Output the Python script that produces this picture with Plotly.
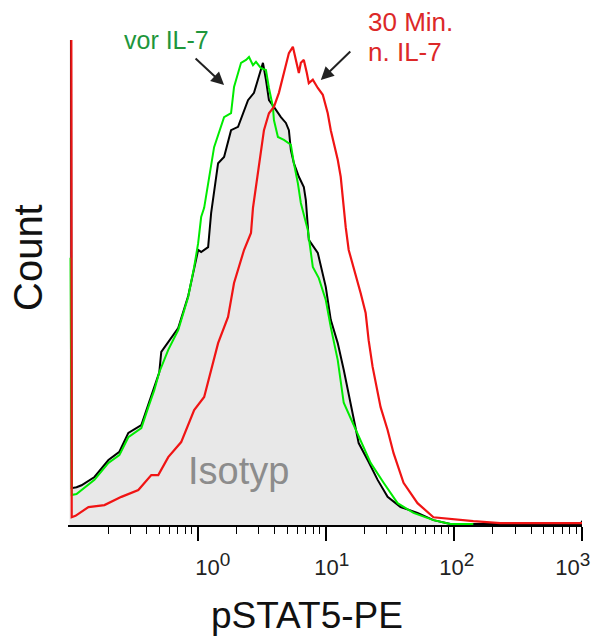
import math
import plotly.graph_objects as go

# ---------------- data ----------------
# pSTAT5-PE intensity (x) and cell counts (y, arbitrary units, axis 0..100)
iso_x = [0.1, 0.104, 0.1134, 0.124, 0.1565, 0.2012, 0.2449, 0.2877, 0.3634, 0.412, 0.4586,
         0.5017, 0.520, 0.5686, 0.705, 0.8435, 0.9392, 1.009, 1.065, 1.207, 1.274, 1.320,
         1.444, 1.608, 1.823, 2.067, 2.472, 2.752, 3.011, 3.234, 3.413, 3.601, 3.938,
         4.464, 4.884, 5.154, 5.341, 5.636, 6.165, 6.742, 6.988, 7.374, 8.665, 10.0,
         10.94, 12.40, 13.81, 15.65, 18.06, 21.22, 25.40, 30.38, 38.35, 52.0, 69.27,
         93.93, 990, 1000]
iso_y = [300, 7.6, 7.8, 8.2, 9.9, 13.4, 15.1, 19.0, 20.6, 24.7, 28.2,
         31.5, 35.7, 37.1, 40.6, 47.2, 53.0, 56.7, 56.3, 57.3, 64.3, 67.0,
         74.6, 75.9, 81.4, 82.1, 87.6, 89.1, 92.4, 95.3, 91.8, 87.6, 86.2,
         84.1, 82.9, 81.4, 77.3, 74.6, 71.8, 69.7, 67.0, 58.8, 56.1, 49.1,
         42.3, 37.5, 32.0, 25.2, 16.9, 13.4, 9.3, 5.8, 3.7, 2.5, 1.0,
         0.2, 0.2, 0.9]

vor_x = [0.1018, 0.104, 0.1134, 0.124, 0.1565, 0.2012, 0.2449, 0.2877, 0.3634, 0.412, 0.4586,
         0.5017, 0.5894, 0.705, 0.8435, 0.9392, 1.009, 1.065, 1.124, 1.344, 1.608, 1.823,
         1.923, 2.181, 2.385, 2.517, 2.703, 2.853, 3.121, 3.413, 3.601, 3.868, 3.938,
         4.232, 4.713, 5.341, 5.636, 6.055, 6.389, 7.243, 7.922, 8.822, 10.0, 10.94,
         12.40, 13.81, 18.06, 22.39, 28.28, 36.34, 48.39, 69.27, 93.93, 141.8]
vor_y = [55.1, 6.2, 6.4, 7.2, 9.3, 12.8, 14.4, 18.1, 20.0, 24.3, 27.8,
         31.5, 36.1, 40.2, 47.0, 53.2, 58.1, 63.5, 65.4, 77.9, 84.1, 84.9,
         90.3, 95.3, 95.9, 96.5, 94.8, 95.5, 94.2, 93.8, 90.1, 86.2, 83.5,
         80.0, 79.4, 78.4, 74.6, 70.5, 66.4, 60.8, 53.2, 50.9, 46.4, 40.8,
         34.0, 25.2, 18.1, 12.8, 8.7, 4.5, 2.5, 1.0, 0.2, 0.2]

nach_x = [0.1018, 0.104, 0.1113, 0.124, 0.1405, 0.1873, 0.254, 0.3443, 0.4346, 0.4927, 0.5894,
          0.7438, 0.9392, 1.124, 1.229, 1.444, 1.727, 1.923, 2.301, 2.608, 2.703, 3.011,
          3.293, 3.601, 3.938, 4.307, 4.713, 5.154, 5.536, 5.841, 6.165, 6.389, 6.742,
          7.115, 7.374, 7.922, 8.665, 9.478, 10.36, 10.94, 11.54, 12.40, 13.08, 13.56,
          14.31, 15.10, 16.51, 18.73, 20.48, 21.61, 23.21, 26.79, 30.38, 33.82, 40.46,
          52.0, 69.27, 93.93, 141.8, 230.1, 1000]
nach_y = [300, 1.6, 1.9, 2.7, 3.7, 4.1, 5.8, 7.2, 10.3, 10.3, 14.0,
          17.1, 23.7, 26.4, 30.5, 37.5, 42.9, 49.9, 56.7, 60.2, 65.4, 74.6,
          81.4, 84.9, 86.2, 89.1, 93.2, 97.3, 98.6, 95.9, 93.2, 95.3, 95.9,
          93.2, 91.1, 91.8, 90.1, 88.7, 84.9, 81.4, 78.8, 75.3, 71.8, 67.0,
          61.4, 56.7, 53.2, 47.8, 43.7, 38.1, 32.6, 24.3, 19.6, 14.8, 8.7,
          4.5, 1.6, 1.2, 0.8, 0.4, 0.4]

major_ticks = [1, 10, 100, 1000]
exponents = ["0", "1", "2", "3"]
label_pads = [("&nbsp;" * 3, ""), ("", ""), ("", "&nbsp;"), ("", "&nbsp;" * 5)]
minor_ticks = [m * d for d in (0.1, 1, 10, 100) for m in range(2, 10)]

FONT = "Liberation Sans, Arial, sans-serif"
major_labels = [pre + "10<sup><span style='font-size:19px'>" + e + "</span></sup>" + post
                for e, (pre, post) in zip(exponents, label_pads)]

fig = go.Figure()
fig.add_trace(go.Scatter(x=iso_x, y=iso_y, mode="lines", name="Isotyp",
                         line=dict(color="black", width=2),
                         fill="tozeroy", fillcolor="rgb(232,232,232)"))
fig.add_trace(go.Scatter(x=vor_x, y=vor_y, mode="lines", name="vor IL-7",
                         line=dict(color="rgb(0,235,0)", width=2)))
fig.add_trace(go.Scatter(x=nach_x, y=nach_y, mode="lines", name="30 Min. n. IL-7",
                         line=dict(color="rgb(240,20,20)", width=2.2)))

fig.update_layout(
    width=594, height=636,
    margin=dict(l=68, r=12, t=40, b=111, autoexpand=False),
    paper_bgcolor="white", plot_bgcolor="white",
    showlegend=False,
    font=dict(family=FONT, color="#222"),
    xaxis=dict(type="log", range=[-1.012, 3.0], showgrid=False, zeroline=False,
               automargin=False,
               showline=True, linecolor="black", linewidth=1.5,
               ticks="outside", ticklen=14, tickwidth=1.5, tickcolor="black",
               tickmode="array", tickvals=major_ticks, ticktext=major_labels,
               tickfont=dict(size=22, family=FONT, color="#222"),
               ticklabelshift=6, ticklabelstandoff=8, ticklabeloverflow="allow",
               minor=dict(ticks="outside", ticklen=7, tickwidth=1.2, tickcolor="black",
                          tickvals=minor_ticks, showgrid=False)),
    yaxis=dict(range=[0, 100], showgrid=False, zeroline=False, showline=False,
               automargin=False, showticklabels=False, ticks=""),
)

ann = []
ann.append(dict(text="vor IL-7", xref="paper", yref="paper", x=0.1907, y=1.0,
                xanchor="center", yanchor="middle", showarrow=False,
                font=dict(size=25, color="rgb(30,150,60)", family=FONT)))
ann.append(dict(text="30 Min.", xref="paper", yref="paper", x=0.5798, y=(525 - 22) / 485,
                xanchor="left", yanchor="middle", showarrow=False,
                font=dict(size=26, color="rgb(220,40,40)", family=FONT)))
ann.append(dict(text="n. IL-7", xref="paper", yref="paper", x=0.5798, y=(525 - 52) / 485,
                xanchor="left", yanchor="middle", showarrow=False,
                font=dict(size=26, color="rgb(220,40,40)", family=FONT)))
ann.append(dict(text="Isotyp", xref="paper", yref="paper", x=(238 - 68) / 514, y=(525 - 471) / 485,
                xanchor="center", yanchor="middle", showarrow=False,
                font=dict(size=38, color="rgb(140,140,140)", family=FONT)))
ann.append(dict(text="pSTAT5-PE", xref="paper", yref="paper", x=(307 - 68) / 514, y=(525 - 615) / 485,
                xanchor="center", yanchor="middle", showarrow=False,
                font=dict(size=37, color="#111", family=FONT)))
ann.append(dict(text="Count", xref="paper", yref="paper", x=(28 - 68) / 514, y=(525 - 258) / 485,
                xanchor="center", yanchor="middle", showarrow=False, textangle=-90,
                font=dict(size=40, color="#111", family=FONT)))
# arrows (head position in data coordinates)
ann.append(dict(text="", x=math.log10(1.608), y=90.7, xref="x", yref="y",
                axref="pixel", ayref="pixel", ax=-30, ay=-28, showarrow=True,
                arrowhead=2, arrowsize=1.3, arrowwidth=2, arrowcolor="#222", standoff=0))
ann.append(dict(text="", x=math.log10(9.146), y=91.75, xref="x", yref="y",
                axref="pixel", ayref="pixel", ax=31, ay=-30, showarrow=True,
                arrowhead=2, arrowsize=1.3, arrowwidth=2, arrowcolor="#222", standoff=0))
fig.update_layout(annotations=ann)

fig.write_html("out.html", config={"displayModeBar": False},
               post_script="document.body.style.margin='0px';")
